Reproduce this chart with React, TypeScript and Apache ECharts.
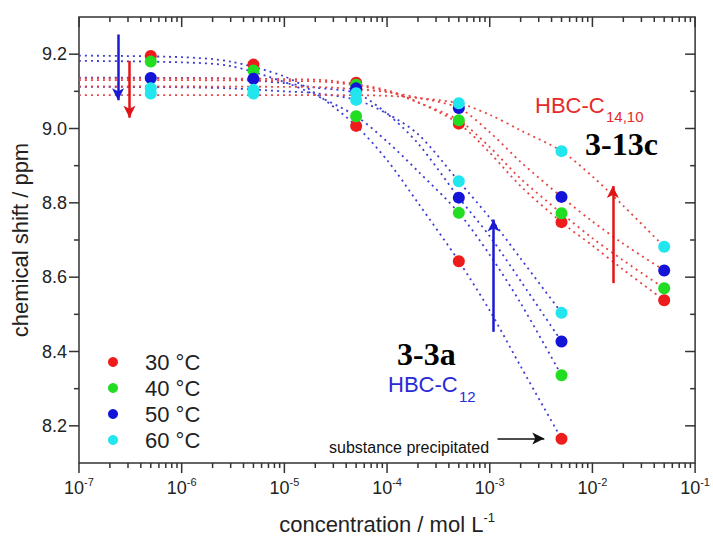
import React, { useEffect, useRef } from 'react';
import * as echarts from 'echarts';

// ---------- data ----------
const temps = ['30 °C', '40 °C', '50 °C', '60 °C'];
const colors = ['#ee1c1c', '#22dd22', '#1414d8', '#22e6ee'];

// compound 3-3a (HBC-C12)
const conc3a = [5e-7, 5e-6, 5e-5, 5e-4, 5e-3];
const shift3a_30 = [9.195, 9.172, 9.007, 8.643, 8.165];
const shift3a_40 = [9.18, 9.156, 9.033, 8.773, 8.336];
const shift3a_50 = [9.136, 9.134, 9.1, 8.814, 8.427];
const shift3a_60 = [9.108, 9.104, 9.077, 8.858, 8.504];
const conc3a_60b = [5e-7, 5e-6];
const shift3a_60b = [9.094, 9.094];

// compound 3-13c (HBC-C14,10)
const conc13c = [5e-5, 5e-4, 5e-3, 5e-2];
const shift13c_30 = [9.123, 9.013, 8.748, 8.538];
const shift13c_40 = [9.118, 9.022, 8.772, 8.57];
const shift13c_50 = [9.108, 9.055, 8.816, 8.618];
const shift13c_60 = [9.095, 9.068, 8.939, 8.682];

// fit curves
const fitX3a = [1e-7, 1e-6, 3e-6, 1e-5, 2e-5, 5e-5, 1e-4, 2e-4, 5e-4, 1e-3, 2e-3, 5e-3];
const fit3a_30 = [9.196, 9.192, 9.18, 9.14, 9.095, 9.007, 8.915, 8.8, 8.643, 8.51, 8.36, 8.165];
const fit3a_40 = [9.182, 9.178, 9.168, 9.125, 9.09, 9.033, 8.965, 8.885, 8.773, 8.66, 8.53, 8.336];
const fit3a_50 = [9.137, 9.136, 9.134, 9.122, 9.11, 9.095, 9.04, 8.96, 8.814, 8.71, 8.59, 8.427];
const fit3a_60 = [9.112, 9.111, 9.108, 9.1, 9.095, 9.077, 9.04, 8.985, 8.858, 8.76, 8.65, 8.504];

const fitX13c = [1e-7, 1e-6, 1e-5, 3e-5, 1e-4, 2e-4, 5e-4, 1e-3, 2e-3, 5e-3, 1e-2, 2e-2, 5e-2];
const fit13c_30 = [9.135, 9.135, 9.133, 9.128, 9.103, 9.071, 9.013, 8.935, 8.845, 8.748, 8.685, 8.62, 8.538];
const fit13c_40 = [9.13, 9.13, 9.128, 9.124, 9.1, 9.07, 9.022, 8.95, 8.865, 8.772, 8.705, 8.645, 8.57];
const fit13c_50 = [9.113, 9.113, 9.112, 9.11, 9.098, 9.083, 9.055, 8.99, 8.91, 8.816, 8.75, 8.69, 8.618];
const fit13c_60 = [9.09, 9.09, 9.09, 9.09, 9.088, 9.082, 9.068, 9.037, 8.995, 8.939, 8.871, 8.792, 8.682];

// arrows [x, yFrom, yTo]
const arrowBlueDown = [2.4e-7, 9.253, 9.076];
const arrowRedDown = [3.1e-7, 9.182, 9.029];
const arrowBlueUp = [1.09e-3, 8.453, 8.755];
const arrowRedUp = [1.58e-2, 8.584, 8.845];
// precipitated arrow [xFrom, xTo, y]
const arrowBlack = [1.19e-3, 3.4e-3, 8.166];

// axes
const X_MIN = 1e-7;
const X_MAX = 1e-1;
const Y_MIN = 8.1;
const Y_MAX = 9.3;
const xDecades = [-7, -6, -5, -4, -3, -2, -1];
const yMajorTicks = [8.2, 8.4, 8.6, 8.8, 9.0, 9.2];
const yMinorTicks = [8.3, 8.5, 8.7, 8.9, 9.1];
const minorMultipliers = [2, 3, 4, 5, 6, 7, 8, 9];

const SANS = 'Liberation Sans, Arial, sans-serif';
const SERIF = 'Liberation Serif, Times New Roman, serif';
const AXIS_COLOR = '#333';

function pairs(xs: number[], ys: number[]) {
  return xs.map((x, i) => [x, ys[i]]);
}

export default function App() {
  const ref = useRef<HTMLDivElement>(null);

  useEffect(() => {
    if (!ref.current) return;
    const chart = echarts.init(ref.current, undefined, { renderer: 'svg' });

    // tick marks: [x, y, side, length]; side 0 bottom(out) 1 top(in) 2 left(out) 3 right(in)
    const ticks: number[][] = [];
    xDecades.forEach((e) => {
      const v = Math.pow(10, e);
      ticks.push([v, Y_MIN, 0, 10], [v, Y_MAX, 1, 10]);
      if (e < -1) {
        minorMultipliers.forEach((k) => {
          const m = k * v;
          ticks.push([m, Y_MIN, 0, 5], [m, Y_MAX, 1, 5]);
        });
      }
    });
    yMajorTicks.forEach((v) => ticks.push([X_MIN, v, 2, 10], [X_MAX, v, 3, 10]));
    yMinorTicks.forEach((v) => ticks.push([X_MIN, v, 2, 5], [X_MAX, v, 3, 5]));

    const scatterSets = [
      [...pairs(conc3a, shift3a_30), ...pairs(conc13c, shift13c_30)],
      [...pairs(conc3a, shift3a_40), ...pairs(conc13c, shift13c_40)],
      [...pairs(conc3a, shift3a_50), ...pairs(conc13c, shift13c_50)],
      [...pairs(conc3a, shift3a_60), ...pairs(conc3a_60b, shift3a_60b), ...pairs(conc13c, shift13c_60)],
    ];

    const blueFit = '#3c3cd6';
    const redFit = '#e84545';
    const fitStyle = (color: string) => ({ type: [2, 4] as any, width: 1.8, color });

    const fitSeries: any[] = [
      ...[fit3a_30, fit3a_40, fit3a_50, fit3a_60].map((ys, i) => ({
        type: 'line',
        name: 'fit3a_' + i,
        data: pairs(fitX3a, ys),
        showSymbol: false,
        smooth: 0.3,
        silent: true,
        lineStyle: fitStyle(blueFit),
        z: 1,
        ...(i === 0
          ? {
              markLine: {
                silent: true,
                symbol: ['none', 'arrow'],
                symbolSize: [9, 12],
                label: { show: false },
                lineStyle: { type: 'solid', width: 2.5, color: '#1a1ad2' },
                data: [
                  [{ coord: [arrowBlueDown[0], arrowBlueDown[1]] }, { coord: [arrowBlueDown[0], arrowBlueDown[2]] }],
                  [{ coord: [arrowBlueUp[0], arrowBlueUp[1]] }, { coord: [arrowBlueUp[0], arrowBlueUp[2]] }],
                  [
                    { coord: [arrowBlack[0], arrowBlack[2]], lineStyle: { color: '#111', width: 1.5, type: 'solid' } },
                    { coord: [arrowBlack[1], arrowBlack[2]] },
                  ],
                ],
              },
            }
          : {}),
      })),
      ...[fit13c_30, fit13c_40, fit13c_50, fit13c_60].map((ys, i) => ({
        type: 'line',
        name: 'fit13c_' + i,
        data: pairs(fitX13c, ys),
        showSymbol: false,
        smooth: 0.3,
        silent: true,
        lineStyle: fitStyle(redFit),
        z: 1,
        ...(i === 0
          ? {
              markLine: {
                silent: true,
                symbol: ['none', 'arrow'],
                symbolSize: [9, 12],
                label: { show: false },
                lineStyle: { type: 'solid', width: 2.5, color: '#e01414' },
                data: [
                  [{ coord: [arrowRedDown[0], arrowRedDown[1]] }, { coord: [arrowRedDown[0], arrowRedDown[2]] }],
                  [{ coord: [arrowRedUp[0], arrowRedUp[1]] }, { coord: [arrowRedUp[0], arrowRedUp[2]] }],
                ],
              },
            }
          : {}),
      })),
    ];

    const option: any = {
      animation: false,
      backgroundColor: '#fff',
      grid: {
        left: 79,
        right: 13,
        top: 17,
        bottom: 67,
        show: true,
        borderColor: AXIS_COLOR,
        borderWidth: 1.5,
        backgroundColor: 'transparent',
      },
      legend: {
        data: temps,
        orient: 'vertical',
        left: 103,
        top: 346,
        icon: 'circle',
        itemWidth: 10,
        itemHeight: 10,
        itemGap: 4,
        selectedMode: false,
        textStyle: { fontSize: 22, fontFamily: SANS, color: '#222', padding: [0, 0, 0, 22] },
      },
      xAxis: {
        type: 'log',
        logBase: 10,
        min: X_MIN,
        max: X_MAX,
        axisLine: { show: false },
        axisTick: { show: false },
        splitLine: { show: false },
        minorTick: { show: false },
        axisLabel: {
          margin: 13,
          formatter: (v: number) => `{b|10}{s|${Math.round(Math.log10(v))}}`,
          rich: {
            b: { fontSize: 18, fontFamily: SANS, color: '#222', verticalAlign: 'bottom' },
            s: { fontSize: 11, fontFamily: SANS, color: '#222', verticalAlign: 'bottom', padding: [0, 0, 10, 0] },
          },
        },
        name: '{b|concentration / mol L}{s|-1}',
        nameLocation: 'middle',
        nameGap: 48,
        nameTextStyle: {
          rich: {
            b: { fontSize: 22, fontFamily: SANS, color: '#222', verticalAlign: 'bottom' },
            s: { fontSize: 13, fontFamily: SANS, color: '#222', verticalAlign: 'bottom', padding: [0, 0, 11, 0] },
          },
        },
      },
      yAxis: {
        type: 'value',
        min: Y_MIN,
        max: Y_MAX,
        interval: 0.1,
        axisLine: { show: false },
        axisTick: { show: false },
        splitLine: { show: false },
        axisLabel: {
          margin: 12,
          fontSize: 18,
          fontFamily: SANS,
          color: '#222',
          formatter: (v: number) => (Math.round(v * 10) % 2 === 0 ? v.toFixed(1) : ''),
        },
        name: 'chemical shift / ppm',
        nameLocation: 'middle',
        nameGap: 44,
        nameTextStyle: { fontSize: 22, fontFamily: SANS, color: '#222' },
      },
      series: [
        ...fitSeries,
        ...temps.map((t, i) => ({
          type: 'scatter',
          name: t,
          data: scatterSets[i],
          symbol: 'circle',
          symbolSize: 12,
          itemStyle: { color: colors[i], opacity: 1 },
          z: 3,
        })),
        {
          type: 'custom',
          name: 'ticks',
          silent: true,
          clip: false,
          z: 5,
          data: ticks,
          renderItem: (params: any, api: any) => {
            const x = api.value(0);
            const y = api.value(1);
            const side = api.value(2);
            const len = api.value(3);
            const p = api.coord([x, y]);
            let x2 = p[0];
            let y2 = p[1];
            if (side === 0 || side === 1) y2 = p[1] + len;
            else x2 = p[0] - len;
            return {
              type: 'line',
              shape: { x1: p[0], y1: p[1], x2, y2 },
              style: { stroke: AXIS_COLOR, lineWidth: 1.5 },
            };
          },
        },
      ],
      graphic: [
        {
          type: 'text',
          x: 535,
          y: 105,
          style: { text: 'HBC-C', fill: '#e52a2a', font: `22px ${SANS}`, textAlign: 'left', textVerticalAlign: 'middle' },
        },
        {
          type: 'text',
          x: 606,
          y: 116,
          style: { text: '14,10', fill: '#e52a2a', font: `15px ${SANS}`, textAlign: 'left', textVerticalAlign: 'middle' },
        },
        {
          type: 'text',
          x: 585,
          y: 144,
          style: { text: '3-13c', fill: '#000', font: `bold 32px ${SERIF}`, lineHeight: 26, textAlign: 'left', textVerticalAlign: 'middle' },
        },
        {
          type: 'text',
          x: 397,
          y: 354,
          style: { text: '3-3a', fill: '#000', font: `bold 32px ${SERIF}`, lineHeight: 26, textAlign: 'left', textVerticalAlign: 'middle' },
        },
        {
          type: 'text',
          x: 388,
          y: 384,
          style: { text: 'HBC-C', fill: '#2a2ad6', font: `22px ${SANS}`, lineHeight: 20, textAlign: 'left', textVerticalAlign: 'middle' },
        },
        {
          type: 'text',
          x: 459,
          y: 396,
          style: { text: '12', fill: '#2a2ad6', font: `15px ${SANS}`, textAlign: 'left', textVerticalAlign: 'middle' },
        },
        {
          type: 'text',
          x: 329,
          y: 447,
          style: { text: 'substance precipitated', fill: '#111', font: `16px ${SANS}`, textAlign: 'left', textVerticalAlign: 'middle' },
        },
      ],
    };

    chart.setOption(option);
    return () => chart.dispose();
  }, []);

  return (
    <div
      ref={ref}
      style={{ position: 'fixed', left: 0, top: 0, width: 713, height: 540, background: '#fff' }}
    />
  );
}
